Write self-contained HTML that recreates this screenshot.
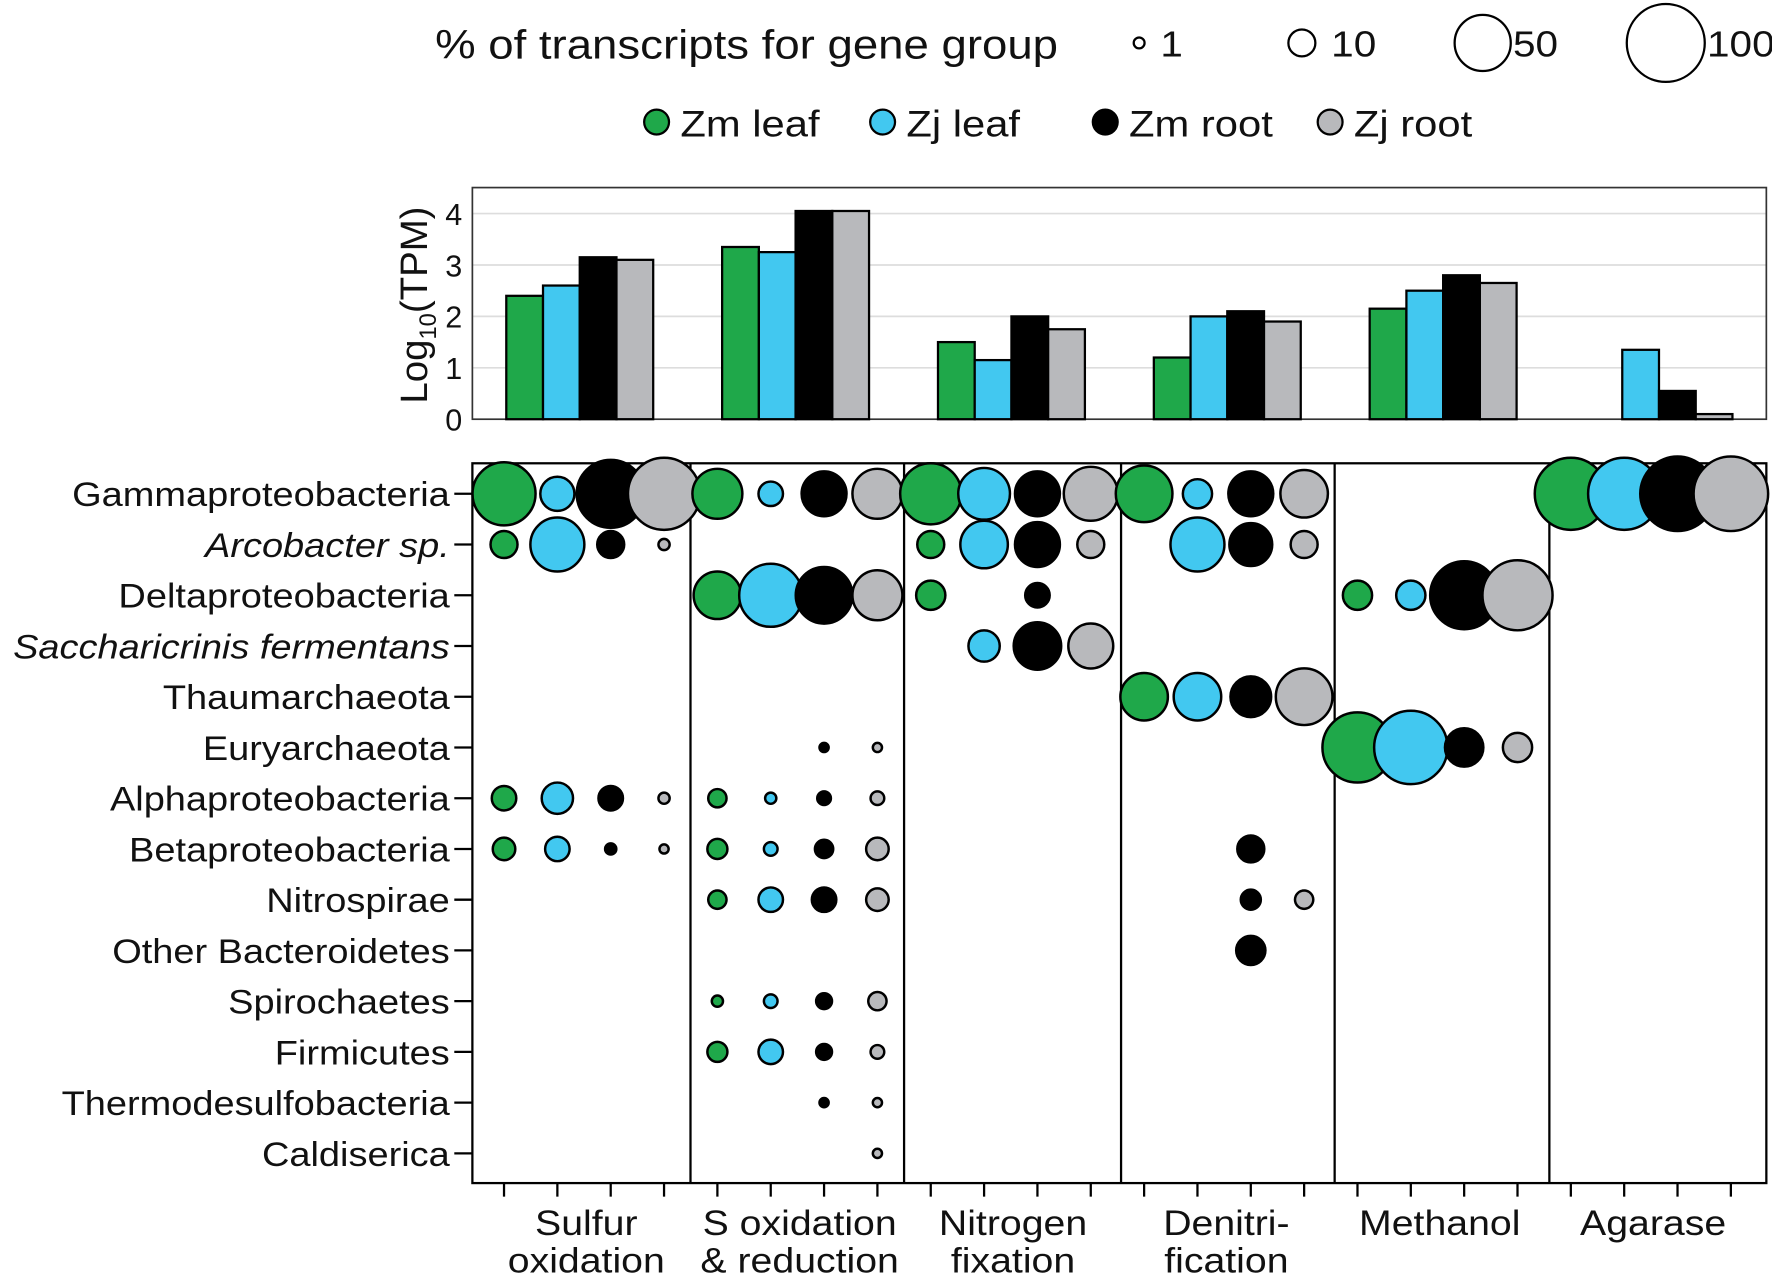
<!DOCTYPE html>
<html><head><meta charset="utf-8"><style>
html,body{margin:0;padding:0;background:#fff;}
svg{display:block;font-family:"Liberation Sans",Arial,sans-serif;}
</style></head><body>
<svg id="chart" width="1772" height="1278" viewBox="0 0 1568 1131" preserveAspectRatio="none" xmlns="http://www.w3.org/2000/svg"></svg>
<script>
const groups1 = ["Sulfur","S oxidation","Nitrogen","Denitri-","Methanol","Agarase"];
const groups2 = ["oxidation","& reduction","fixation","fication","",""];
const seriesNames = ["Zm leaf","Zj leaf","Zm root","Zj root"];
const seriesColors = ["#1fa84a","#42c8f0","#000000","#b8b9bc"];
const yTicks = [0,1,2,3,4];
// log10(TPM) per group, per series
const barZmLeaf = [2.4,3.35,1.5,1.2,2.15,0];
const barZjLeaf = [2.6,3.25,1.15,2.0,2.5,1.35];
const barZmRoot = [3.15,4.05,2.0,2.1,2.8,0.55];
const barZjRoot = [3.1,4.05,1.75,1.9,2.65,0.1];
const taxa = ["Gammaproteobacteria","Arcobacter sp.","Deltaproteobacteria","Saccharicrinis fermentans","Thaumarchaeota","Euryarchaeota","Alphaproteobacteria","Betaproteobacteria","Nitrospirae","Other Bacteroidetes","Spirochaetes","Firmicutes","Thermodesulfobacteria","Caldiserica"];
const italicTaxa = [false,true,false,true,false,false,false,false,false,false,false,false,false,false];
// % of transcripts: 24 columns (6 groups x 4 series), 0 = absent
const pctGamma  = [64,17,75,85, 39,8,31,39, 60,42,31,46, 51,12,31,35, 0,0,0,0, 85,85,91,91];
const pctArco   = [10,46,10,1.1, 0,0,0,0, 10,35,31,10, 0,46,28,10, 0,0,0,0, 0,0,0,0];
const pctDelta  = [0,0,0,0, 35,64,51,39, 12,0,8,0, 0,0,0,0, 12,12,75,80, 0,0,0,0];
const pctSacch  = [0,0,0,0, 0,0,0,0, 0,14,35,31, 0,0,0,0, 0,0,0,0, 0,0,0,0];
const pctThaum  = [0,0,0,0, 0,0,0,0, 0,0,0,0, 35,35,25,51, 0,0,0,0, 0,0,0,0];
const pctEury   = [0,0,0,0, 0,0,0.6,0.6, 0,0,0,0, 0,0,0,0, 80,88,22,12, 0,0,0,0];
const pctAlpha  = [8,14,8,1.1, 4,1.1,1.9,1.9, 0,0,0,0, 0,0,0,0, 0,0,0,0, 0,0,0,0];
const pctBeta   = [6.6,8,1.1,0.6, 5,1.9,4,6.6, 0,0,0,0, 0,0,10,0, 0,0,0,0, 0,0,0,0];
const pctNitro  = [0,0,0,0, 4,8,8,6.6, 0,0,0,0, 0,0,5,4, 0,0,0,0, 0,0,0,0];
const pctOther  = [0,0,0,0, 0,0,0,0, 0,0,0,0, 0,0,12,0, 0,0,0,0, 0,0,0,0];
const pctSpiro  = [0,0,0,0, 1.1,1.9,2.8,4, 0,0,0,0, 0,0,0,0, 0,0,0,0, 0,0,0,0];
const pctFirm   = [0,0,0,0, 5,8,2.8,1.9, 0,0,0,0, 0,0,0,0, 0,0,0,0, 0,0,0,0];
const pctThermo = [0,0,0,0, 0,0,0.6,0.6, 0,0,0,0, 0,0,0,0, 0,0,0,0, 0,0,0,0];
const pctCaldi  = [0,0,0,0, 0,0,0,0.6, 0,0,0,0, 0,0,0,0, 0,0,0,0, 0,0,0,0];
const sizeLegend = [1,10,50,100];

const NS="http://www.w3.org/2000/svg";
const svg=document.getElementById('chart');
function mk(tag,attrs,parent){const e=document.createElementNS(NS,tag);for(const k in attrs)e.setAttribute(k,attrs[k]);(parent||svg).appendChild(e);return e;}
const stretchList=[];
function txt(s,attrs,parent,stretch){const e=mk('text',attrs,parent);e.textContent=s;if(stretch!==false)stretchList.push(e);return e;}
const rScale=v=>3.3*Math.sqrt(v)+1.5;

// ===== Legends =====
let lg=mk('g',{});


let t=txt("% of transcripts for gene group",{x:385,y:52,'font-size':36,fill:'#111'},lg);


const sizeLegX=[1008,1152,1312,1474];
sizeLegend.forEach((v,i)=>{
  const r=rScale(v);
  const c=mk('circle',{cx:sizeLegX[i],cy:38,r:r,fill:'#fff',stroke:'#000','stroke-width':2},lg);
  
  
  const tt=txt(String(v),{x:sizeLegX[i]+r+(i<2?14:2),y:50,'font-size':32,fill:'#111'},lg);
  
  
});
let cl=mk('g',{});


const colLegX=[581,781,978,1177];
seriesNames.forEach((n,i)=>{
  const c=mk('circle',{cx:colLegX[i],cy:108,r:11,fill:seriesColors[i],stroke:'#000','stroke-width':2},cl);
  
  
  const tt=txt(n,{x:colLegX[i]+21,y:121,'font-size':33,fill:'#111'},cl);
  
  
});

// ===== Bar chart =====
const bx0=418,bx1=1563,by0=166,by1=371;
const yPix=v=>by1-v*45.5;
const groupCenter=g=>513+g*191;
const barW=32.5;
const bg=mk('g',{});


yTicks.forEach(v=>{
  if(v>0){const gl=mk('line',{x1:bx0,x2:bx1,y1:yPix(v),y2:yPix(v),stroke:'#ddd','stroke-width':1.5},bg);
  
  }
  const tk=txt(String(v),{x:409,y:yPix(v)+10,'font-size':27,'text-anchor':'end',fill:'#111'},bg,false);
  
  
});
const frame=mk('rect',{x:bx0,y:by0,width:bx1-bx0,height:by1-by0,fill:'none',stroke:'#333','stroke-width':1.5},bg);


const yt=mk('text',{transform:'translate(378,270) rotate(-90)','font-size':34,'text-anchor':'middle',fill:'#111'},bg);
yt.innerHTML='Log<tspan font-size="21" dy="8">10</tspan><tspan dy="-8">(TPM)</tspan>';


const barSeries=[barZmLeaf,barZjLeaf,barZmRoot,barZjRoot];
groups1.forEach((g,gi)=>{
  barSeries.forEach((arr,si)=>{
    const v=arr[gi]; if(!(v>0))return;
    const x=groupCenter(gi)-2*barW+si*barW;
    const b=mk('rect',{x:x,y:yPix(v),width:barW,height:by1-yPix(v),fill:seriesColors[si],stroke:'#000','stroke-width':2},bg);
    
    
  });
});

// ===== Bubble chart =====
const px0=418,px1=1563,py0=410,py1=1047;
const colX=i=>446+47.2*i;
const rowY=r=>437+44.9*r;
const pg=mk('g',{});


const pf=mk('rect',{x:px0,y:py0,width:px1-px0,height:py1-py0,fill:'#fff',stroke:'#000','stroke-width':2},pg);


[611,800,992,1181,1371].forEach((x,i)=>{
  const l=mk('line',{x1:x,x2:x,y1:py0,y2:py1,stroke:'#000','stroke-width':2},pg);
  
  
});
taxa.forEach((n,r)=>{
  const l=mk('line',{x1:402,x2:px0,y1:rowY(r),y2:rowY(r),stroke:'#000','stroke-width':2},pg);
  
  
  const tt=txt(n,{x:398,y:rowY(r)+11,'font-size':30,'text-anchor':'end',fill:'#111','font-style':italicTaxa[r]?'italic':'normal'},pg);
  
  
});
for(let i=0;i<24;i++){
  const l=mk('line',{x1:colX(i),x2:colX(i),y1:py1,y2:py1+12,stroke:'#000','stroke-width':2},pg);
  
  
}
groups1.forEach((g,gi)=>{
  const cx=(colX(gi*4)+colX(gi*4+3))/2+2;
  const a=txt(g,{x:cx,y:1093,'font-size':31,'text-anchor':'middle',fill:'#111'},pg);
  
  
  if(groups2[gi]){const b=txt(groups2[gi],{x:cx,y:1126,'font-size':31,'text-anchor':'middle',fill:'#111'},pg);
  
  }
});
const bubbleRows=[pctGamma,pctArco,pctDelta,pctSacch,pctThaum,pctEury,pctAlpha,pctBeta,pctNitro,pctOther,pctSpiro,pctFirm,pctThermo,pctCaldi];
bubbleRows.forEach((row,r)=>{
  row.forEach((v,i)=>{
    if(!(v>0))return;
    const c=mk('circle',{cx:colX(i),cy:rowY(r),r:rScale(v),fill:seriesColors[i%4],stroke:'#000','stroke-width':2.2},svg);
    
    
  });
});
// widen text to match reference font metrics
stretchList.forEach(e=>{
  const w=e.getComputedTextLength();
  if(w>0){e.setAttribute('textLength',(w*1.12).toFixed(1));e.setAttribute('lengthAdjust','spacingAndGlyphs');}
});
</script>
</body></html>
